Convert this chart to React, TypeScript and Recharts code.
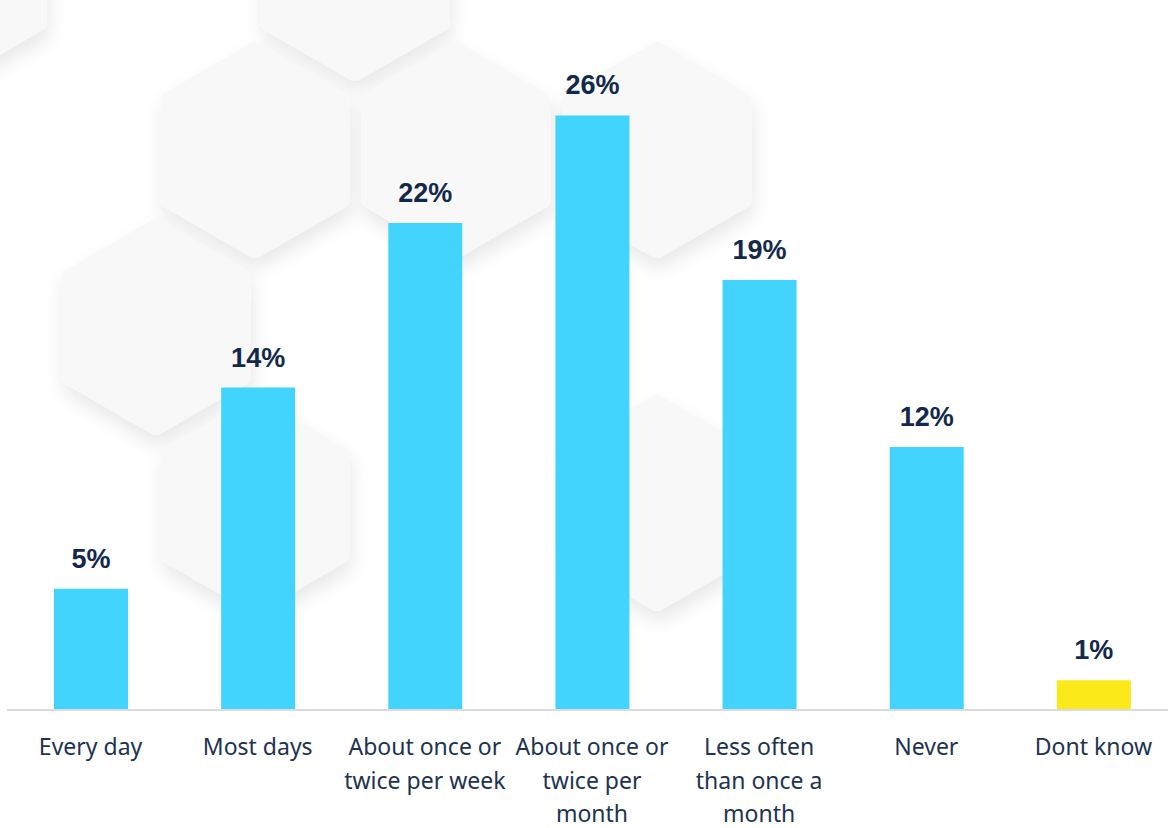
import React from 'react';
import { BarChart, Bar, XAxis, YAxis, Cell, LabelList } from 'recharts';

// categories and values
const categories = [
  'Every day',
  'Most days',
  'About once or twice per week',
  'About once or twice per month',
  'Less often than once a month',
  'Never',
  'Dont know',
];
const tickLines = [
  ['Every day'],
  ['Most days'],
  ['About once or', 'twice per week'],
  ['About once or', 'twice per', 'month'],
  ['Less often', 'than once a', 'month'],
  ['Never'],
  ['Dont know'],
];
const values = [5.3, 14.1, 21.3, 26.0, 18.8, 11.5, 1.3];
const valueLabels = ['5%', '14%', '22%', '26%', '19%', '12%', '1%'];
const barColors = ['#42d4fc', '#42d4fc', '#42d4fc', '#42d4fc', '#42d4fc', '#42d4fc', '#fbe91a'];

// background honeycomb decoration (centres)
const hexCentres = [
  [-48, -27], [355, -27],
  [255, 150], [456, 150], [657, 150],
  [156, 327],
  [255, 505], [657, 503],
];

const data = categories.map((name, i) => ({
  name,
  value: values[i],
  label: valueLabels[i],
}));

const hexPath = (cx: number, cy: number, r: number) => {
  const pts = [];
  for (let k = 0; k < 6; k++) {
    const a = (Math.PI / 3) * k - Math.PI / 2;
    pts.push(`${cx + r * Math.cos(a)},${cy + r * Math.sin(a)}`);
  }
  return 'M' + pts.join('L') + 'Z';
};

const Background = () => (
  <svg width={1168} height={828} style={{ position: 'absolute', left: 0, top: 0 }}>
    <defs>
      <filter id="hexShadow" x="-30%" y="-30%" width="160%" height="160%">
        <feDropShadow dx="2" dy="10" stdDeviation="9" floodColor="#000" floodOpacity="0.09" />
      </filter>
    </defs>
    {hexCentres.map(([cx, cy], i) => (
      <path
        key={i}
        d={hexPath(cx, cy, 100)}
        fill="#f8f8f8"
        stroke="#f8f8f8"
        strokeWidth={16}
        strokeLinejoin="round"
        filter="url(#hexShadow)"
      />
    ))}
  </svg>
);

const CategoryTick = ({ x, y, index }: any) => {
  const lines = tickLines[index] || [];
  return (
    <g>
      {lines.map((line, i) => (
        <text
          key={i}
          x={x}
          y={y + 45 + i * 33.5}
          textAnchor="middle"
          fontFamily="'Noto Sans', sans-serif"
          fontSize={23}
          fill="#1e3350"
        >
          {line}
        </text>
      ))}
    </g>
  );
};

const ValueLabel = ({ x, y, width, value }: any) => (
  <text
    x={x + width / 2}
    y={y - 21}
    textAnchor="middle"
    fontFamily="'Liberation Sans', Arial, sans-serif"
    fontWeight="bold"
    fontSize={27}
    fill="#13294b"
  >
    {value}
  </text>
);

export default function App() {
  return (
    <div style={{ position: 'absolute', left: 0, top: 0, width: 1168, height: 828, overflow: 'hidden', background: '#fff' }}>
      <Background />
      <div style={{ position: 'absolute', left: 0, top: 0 }}>
        <BarChart
          width={1177}
          height={828}
          data={data}
          margin={{ top: 24, right: 0, bottom: 88, left: 7 }}
          barSize={74}
        >
          <XAxis
            dataKey="name"
            height={30}
            interval={0}
            tick={<CategoryTick />}
            tickLine={false}
            tickSize={0}
            tickMargin={0}
            axisLine={{ stroke: '#dcdcdc', strokeWidth: 2 }}
          />
          <YAxis hide domain={[0, 30]} />
          <Bar dataKey="value" isAnimationActive={false}>
            {data.map((d, i) => (
              <Cell key={d.name} fill={barColors[i]} />
            ))}
            <LabelList dataKey="label" content={<ValueLabel />} />
          </Bar>
        </BarChart>
      </div>
    </div>
  );
}
